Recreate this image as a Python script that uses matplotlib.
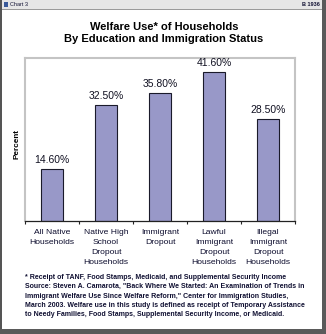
import matplotlib.pyplot as plt
from matplotlib.patches import Rectangle

plt.rcParams['font.family'] = ['Liberation Sans', 'DejaVu Sans']

categories = ['All Native\nHouseholds',
              'Native High\nSchool\nDropout\nHouseholds',
              'Immigrant\nDropout',
              'Lawful\nImmigrant\nDropout\nHouseholds',
              'Illegal\nImmigrant\nDropout\nHouseholds']
welfare_use = [14.6, 32.5, 35.8, 41.6, 28.5]
value_labels = ['14.60%', '32.50%', '35.80%', '41.60%', '28.50%']

title = 'Welfare Use* of Households\nBy Education and Immigration Status'
footnote = ('* Receipt of TANF, Food Stamps, Medicaid, and Supplemental Security Income\n'
            'Source: Steven A. Camarota, "Back Where We Started: An Examination of Trends in\n'
            'Immigrant Welfare Use Since Welfare Reform," Center for Immigration Studies,\n'
            'March 2003. Welfare use in this study is defined as receipt of Temporary Assistance\n'
            'to Needy Families, Food Stamps, Supplemental Security Income, or Medicaid.')

W, H = 326, 334
fig = plt.figure(figsize=(W / 100, H / 100), dpi=100)

def px(x, y, w, h):
    # pixel box (top-left origin) -> figure fraction rectangle
    return (x / W, 1 - (y + h) / H, w / W, h / H)

# window frame: title strip and dark borders
for (x, y, w, h, c) in [(0, 0, W, 9, '#e6e6e6'), (0, 9, W, 1, '#9a9a9a'),
                        (0, 0, 2, H, '#555555'), (322, 0, 4, H, '#5a5a5a'),
                        (0, 329, W, 5, '#5a5a5a')]:
    fx, fy, fw, fh = px(x, y, w, h)
    fig.patches.append(Rectangle((fx, fy), fw, fh, transform=fig.transFigure,
                                 facecolor=c, edgecolor='none', zorder=0))
fx, fy, fw, fh = px(4, 2, 4, 5)
fig.patches.append(Rectangle((fx, fy), fw, fh, transform=fig.transFigure,
                             facecolor='#3a5a9a', edgecolor='none', zorder=1))
fig.text(10 / W, 1 - 5 / H, 'Chart 3', fontsize=4, va='center', ha='left', color='#111133')
fig.text(320 / W, 1 - 5 / H, 'B 1936', fontsize=4, va='center', ha='right',
         fontweight='bold', color='#111133')

fig.text(164 / W, 1 - 33 / H, title, fontsize=8, fontweight='bold',
         ha='center', va='center', linespacing=1.35)

ax = fig.add_axes(px(25, 58, 270, 163))
x = range(len(categories))
ax.bar(x, welfare_use, width=0.41, color='#9898c8', edgecolor='#1a1a2a', linewidth=0.8)
for i, (v, lab) in enumerate(zip(welfare_use, value_labels)):
    ax.annotate(lab, (i, v), xytext=(0, 2.5), textcoords='offset points',
                ha='center', va='bottom', fontsize=7.5, color='#111122')

ax.set_xlim(-0.5, 4.5)
ax.set_ylim(0, 45.5)
ax.set_yticks([])
ax.set_xticks(list(x))
ax.set_xticklabels(categories, fontsize=6.1, color='#0d0d2e', linespacing=1.62)
ax.tick_params(axis='x', which='major', length=0, pad=5.5)
ax.set_xticks([-0.5, 0.5, 1.5, 2.5, 3.5, 4.5], minor=True)
ax.tick_params(axis='x', which='minor', length=2.5, width=0.8, direction='out', color='#222222')

for side in ['left', 'right', 'top']:
    ax.spines[side].set_color('#c4c4c4')
    ax.spines[side].set_linewidth(1.5)
ax.spines['bottom'].set_color('#222222')
ax.spines['bottom'].set_linewidth(0.9)

fig.text(17 / W, 1 - 144 / H, 'Percent', rotation=90, fontsize=5.9, fontweight='bold',
         ha='center', va='center')

fig.text(25 / W, 1 - 274 / H, footnote, fontsize=5.0, fontweight='bold', color='#111133',
         ha='left', va='top', linespacing=1.45)

fig.savefig('out.png', dpi=100)
